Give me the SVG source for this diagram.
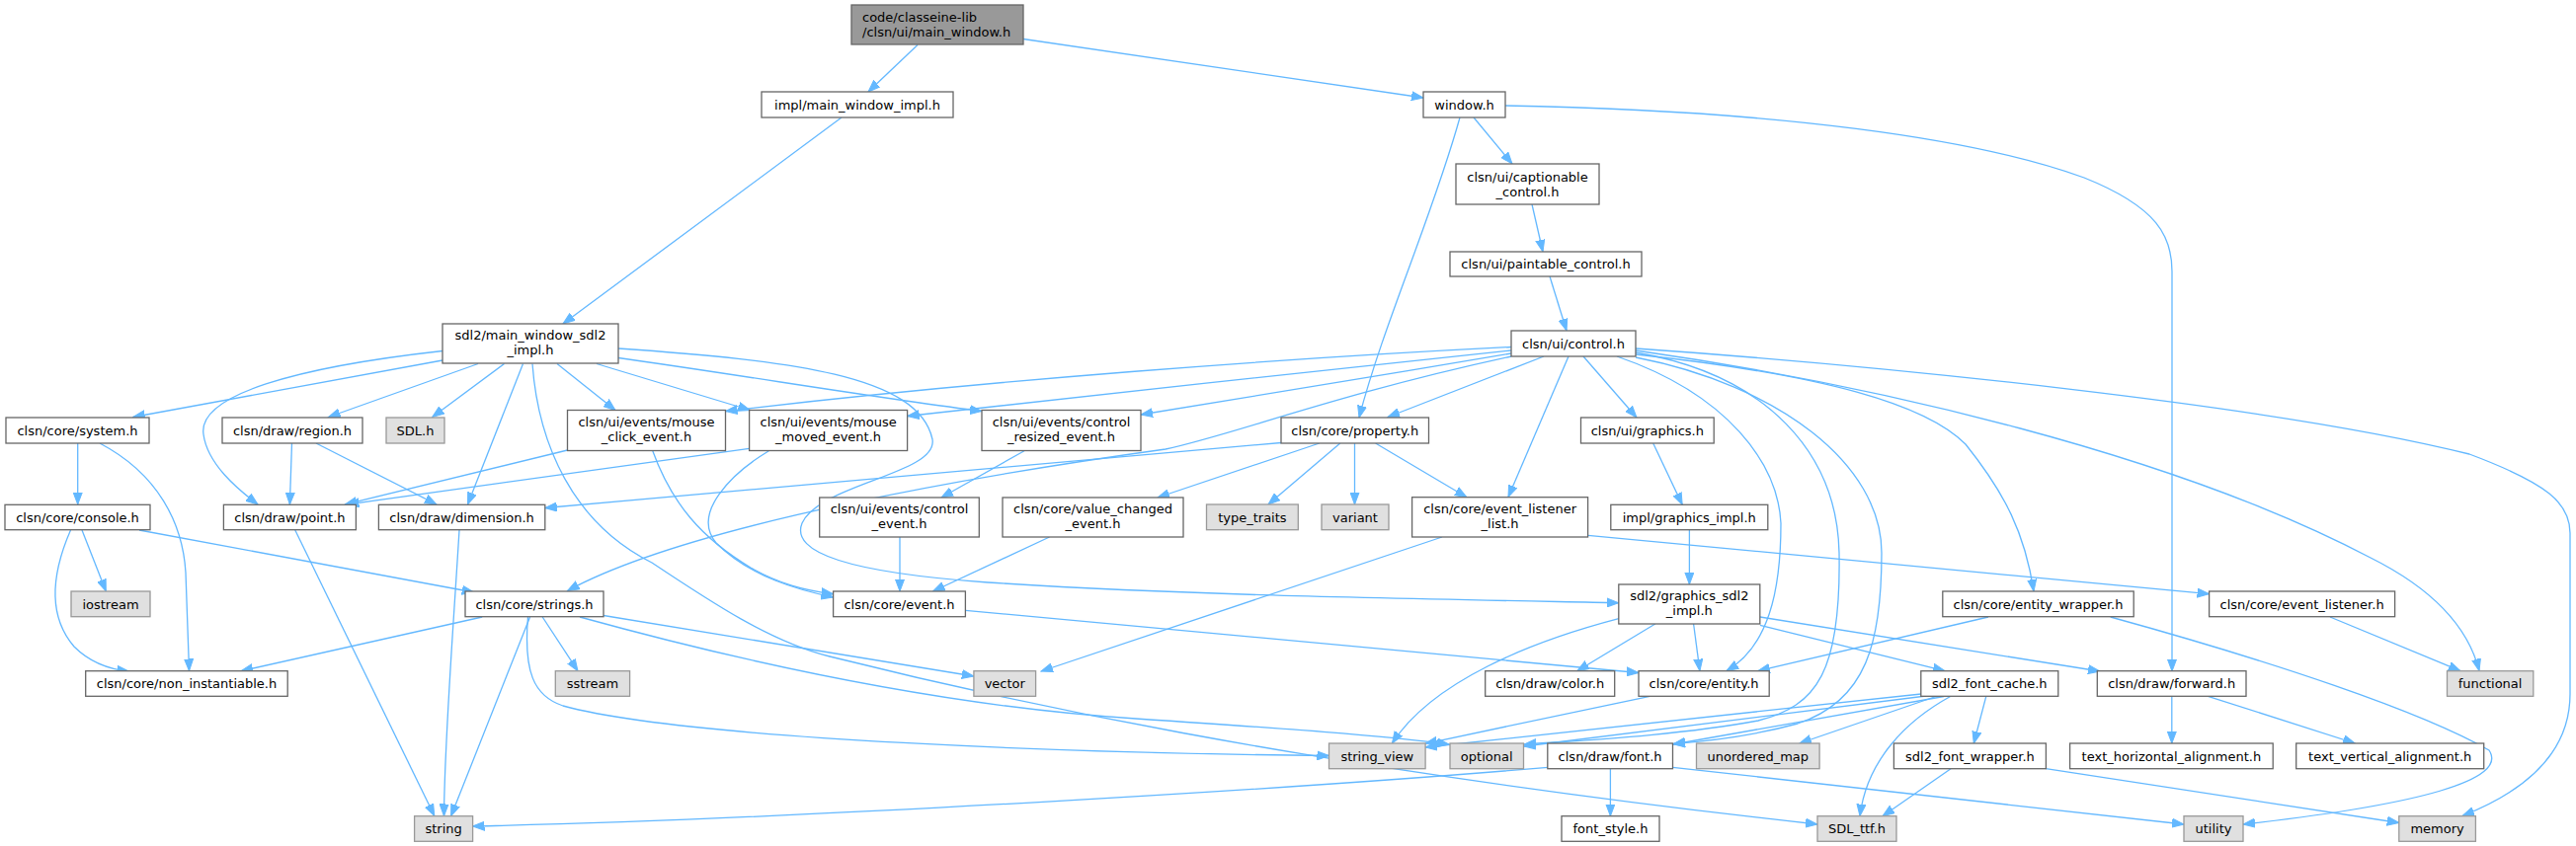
<svg xmlns="http://www.w3.org/2000/svg" width="2608" height="857" viewBox="0 0 2608 857">
<defs>
<marker id="a" markerWidth="13" markerHeight="10" refX="12" refY="5" orient="auto" markerUnits="userSpaceOnUse"><path d="M0,0.5 L12,5 L0,9.5 z" fill="#63b8ff" stroke="#63b8ff" stroke-width="1"/></marker>
<style>
.n rect{fill:#fff;stroke:#666;stroke-width:1.3}
.g rect{fill:#e0e0e0;stroke:#999;stroke-width:1.3}
.m rect{fill:#999;stroke:#666;stroke-width:1.3}
text{font-family:"DejaVu Sans",sans-serif;font-size:13px;fill:#000;text-anchor:middle}
.m text{text-anchor:start}
#edges path{fill:none;stroke:#63b8ff;stroke-width:1.3;marker-end:url(#a)}
</style>
</defs>
<rect width="2608" height="857" fill="#fff"/>
<g id="edges">
<path d="M929,45.5 L879,93"/>
<path d="M1036,39.5 L1441,99"/>
<path d="M852,119 L570,328"/>
<path d="M1492,119 L1531,166"/>
<path d="M1478,119 C1450,220 1400,330 1376,423"/>
<path d="M1524,107 C1800,112 2000,140 2110,180 C2185,210 2199,240 2199,275 L2199,680"/>
<path d="M1551,207 L1562,255"/>
<path d="M1569,280 L1586,335"/>
<path d="M1563,361 L1405,422.5"/>
<path d="M1588,361 L1527,503.5"/>
<path d="M1603,361 L1657,423"/>
<path d="M1637,361 C1750,400 1800,470 1803,530 C1803,600 1790,655 1748,679.5"/>
<path d="M1530,351.5 C1300,363 1000,385 734.6,416.5"/>
<path d="M1530,355 C1350,375 1100,400 918.5,421.5"/>
<path d="M1530,358 C1400,380 1250,405 1155,420"/>
<path d="M1530,361 C1350,400 1250,440 1180,455 C1000,480 700,530 574.5,598.5"/>
<path d="M1656,357 C1790,380 1860,460 1862,560 C1864,680 1840,715 1780,730 C1700,745 1600,750 1543,754"/>
<path d="M1656,362 C1800,390 1905,470 1905,560 C1905,650 1890,710 1820,733 C1780,744 1740,750 1694,753.5"/>
<path d="M1656,359 C1850,380 1950,410 1990,450 C2030,500 2050,540 2059,599"/>
<path d="M1656,355 C1900,390 2200,460 2400,565 C2470,600 2500,640 2510,679.5"/>
<path d="M1656,353 C1900,370 2300,410 2500,460 C2580,490 2602,510 2602,540 L2602,703 C2602,760 2560,800 2493,826.5"/>
<path d="M448,365 L134.7,422.5"/>
<path d="M484,368.5 L332.5,422.5"/>
<path d="M510.5,368.5 L437.7,422.5"/>
<path d="M448,355.5 C300,372 200,400 206,440 C210,470 240,495 261,511"/>
<path d="M529.5,368.5 L473.5,511"/>
<path d="M564,368.5 L623,415.5"/>
<path d="M604,368.5 L759.4,415.5"/>
<path d="M626,362.5 C750,380 900,405 994,416.5"/>
<path d="M626,353 C800,365 930,380 944,445 C950,480 830,490 812,530 C800,560 860,580 1000,590 C1200,603 1400,606 1638.8,610.7"/>
<path d="M539,368.5 C545,450 580,530 660,570 C720,610 780,650 840,665 C1000,705 1300,775 1840,835"/>
<path d="M78.7,449 L78.7,511"/>
<path d="M101,449 C160,480 185,530 188,580 L191.5,679.5"/>
<path d="M83,537 L107.3,599"/>
<path d="M71.5,537 C55,575 45,620 75,655 C90,670 110,678 130.5,680"/>
<path d="M141,537 L479.8,600"/>
<path d="M295.5,449 L293.4,511"/>
<path d="M320,449 L442,511"/>
<path d="M298.8,537 L439.8,826.5"/>
<path d="M465,537 C458,650 450,750 449.5,826.5"/>
<path d="M574.5,456 L349.3,511"/>
<path d="M758.6,454.3 L351.4,511"/>
<path d="M660.5,456 C680,510 710,545 760,575 C790,592 815,598 843.6,601.7"/>
<path d="M778.4,456.7 C740,480 700,520 725,550 C760,585 810,598 843.6,605"/>
<path d="M1037,456.7 L953,504"/>
<path d="M911,544 L911,599"/>
<path d="M1062.5,544 L944.6,599"/>
<path d="M1335.8,449 L1172,504"/>
<path d="M1356.8,449 L1284,511"/>
<path d="M1371.5,449 L1371.5,511"/>
<path d="M1392.6,449 L1485,503.7"/>
<path d="M1297,448.5 L551.8,514.5"/>
<path d="M1673.7,449 L1703.2,511.3"/>
<path d="M1710.4,536.7 L1710.4,592"/>
<path d="M488.2,625 L244.1,679.7"/>
<path d="M536.6,625 L456.6,826.7"/>
<path d="M549.2,625 L585,679.7"/>
<path d="M534.5,625 C530,680 540,705 570,715 C700,750 1100,763 1345.5,765.5"/>
<path d="M611,623.5 L985.9,685"/>
<path d="M587,625 C750,670 950,715 1150,728 C1300,738 1400,745 1467,754"/>
<path d="M1460,544 L1054,680"/>
<path d="M1607.7,542.3 C1800,560 2000,580 2236.6,601.7"/>
<path d="M977.4,618.3 L1659,681.5"/>
<path d="M1638.8,626.7 C1550,650 1450,690 1409.4,753"/>
<path d="M1675.8,632 L1596.7,679.7"/>
<path d="M1714.6,632 L1720.9,679.7"/>
<path d="M1781.9,633.3 L1969,679.7"/>
<path d="M1781.9,625 L2126,680"/>
<path d="M2013,625 L1779.8,679.7"/>
<path d="M2136.7,625 C2300,670 2450,720 2520,760 C2540,790 2450,815 2271,835"/>
<path d="M2359,625 L2491,679.7"/>
<path d="M1670.4,705.3 L1443,753.3"/>
<path d="M2010.8,705.3 L1998.3,753"/>
<path d="M1975,705.3 C1930,730 1890,770 1883,826.7"/>
<path d="M1960,705.5 L1821.9,753"/>
<path d="M1945,703 L1443,757"/>
<path d="M1950,705 L1543,756"/>
<path d="M1968,705.5 L1694,754"/>
<path d="M2198.8,705.3 L2198.8,753"/>
<path d="M2235.4,705.3 L2384.3,753"/>
<path d="M1630.4,778.7 L1630.4,826.7"/>
<path d="M1567.2,777.3 C1300,800 800,830 478.5,837"/>
<path d="M1693.5,777.3 L2211,835"/>
<path d="M2071.3,778.7 L2428.8,833.5"/>
<path d="M1975,778.7 L1906,826.7"/>
</g>
<g id="main" class="m"><rect x="862" y="5" width="174" height="40"/><text x="873" y="21.5">code/classeine-lib</text><text x="873" y="36.5">/clsn/ui/main_window.h</text></g>
<g id="impl_main_window" class="n"><rect x="771" y="93" width="194" height="26"/><text x="868" y="110.5">impl/main_window_impl.h</text></g>
<g id="window" class="n"><rect x="1441" y="93" width="83" height="26"/><text x="1482.5" y="110.5">window.h</text></g>
<g id="captionable" class="n"><rect x="1474" y="166" width="145" height="41"/><text x="1546.5" y="183.5">clsn/ui/captionable</text><text x="1546.5" y="198.5">_control.h</text></g>
<g id="paintable" class="n"><rect x="1468" y="255" width="194" height="25"/><text x="1565" y="272">clsn/ui/paintable_control.h</text></g>
<g id="control" class="n"><rect x="1530" y="335" width="126" height="26"/><text x="1593" y="352.5">clsn/ui/control.h</text></g>
<g id="sdl2main" class="n"><rect x="448" y="328" width="178" height="40"/><text x="537" y="344">sdl2/main_window_sdl2</text><text x="537" y="359">_impl.h</text></g>
<g id="system" class="n"><rect x="6" y="423" width="145" height="26"/><text x="78.5" y="440.5">clsn/core/system.h</text></g>
<g id="region" class="n"><rect x="225" y="423" width="142" height="26"/><text x="296" y="440.5">clsn/draw/region.h</text></g>
<g id="sdl_h" class="g"><rect x="391" y="423" width="59" height="26"/><text x="420.5" y="440.5">SDL.h</text></g>
<g id="mouse_click" class="n"><rect x="574.5" y="415.5" width="160" height="41"/><text x="654.5" y="431.5">clsn/ui/events/mouse</text><text x="654.5" y="446.5">_click_event.h</text></g>
<g id="mouse_moved" class="n"><rect x="758.6" y="415.5" width="160" height="41"/><text x="838.6" y="431.5">clsn/ui/events/mouse</text><text x="838.6" y="446.5">_moved_event.h</text></g>
<g id="control_resized" class="n"><rect x="994" y="415.5" width="161" height="41"/><text x="1074.5" y="431.5">clsn/ui/events/control</text><text x="1074.5" y="446.5">_resized_event.h</text></g>
<g id="property" class="n"><rect x="1297" y="423" width="149.5" height="26"/><text x="1371.7" y="440.5">clsn/core/property.h</text></g>
<g id="graphics" class="n"><rect x="1600.5" y="423" width="134.7" height="26"/><text x="1667.8" y="440.5">clsn/ui/graphics.h</text></g>
<g id="console" class="n"><rect x="5" y="511.3" width="147" height="25.4"/><text x="78.5" y="528.7">clsn/core/console.h</text></g>
<g id="point" class="n"><rect x="226.4" y="511.3" width="134" height="25.4"/><text x="293.4" y="528.7">clsn/draw/point.h</text></g>
<g id="dimension" class="n"><rect x="383.4" y="511.3" width="168.4" height="25.4"/><text x="467.6" y="528.7">clsn/draw/dimension.h</text></g>
<g id="control_event" class="n"><rect x="829.7" y="504" width="161.6" height="40"/><text x="910.5" y="520.3">clsn/ui/events/control</text><text x="910.5" y="535.3">_event.h</text></g>
<g id="value_changed" class="n"><rect x="1015" y="504" width="183" height="40"/><text x="1106.5" y="520.3">clsn/core/value_changed</text><text x="1106.5" y="535.3">_event.h</text></g>
<g id="type_traits" class="g"><rect x="1221.5" y="511" width="92.8" height="25.7"/><text x="1267.9" y="528.5">type_traits</text></g>
<g id="variant" class="g"><rect x="1338" y="511" width="68" height="25.7"/><text x="1372" y="528.5">variant</text></g>
<g id="event_listener_list" class="n"><rect x="1429.6" y="503.7" width="178" height="40.3"/><text x="1518.6" y="520.3">clsn/core/event_listener</text><text x="1518.6" y="535.3">_list.h</text></g>
<g id="graphics_impl" class="n"><rect x="1630.8" y="511.3" width="159" height="25.4"/><text x="1710.3" y="528.7">impl/graphics_impl.h</text></g>
<g id="iostream" class="g"><rect x="72" y="599" width="80" height="25.7"/><text x="112" y="616.5">iostream</text></g>
<g id="strings" class="n"><rect x="471" y="599" width="140" height="25.7"/><text x="541" y="616.5">clsn/core/strings.h</text></g>
<g id="event" class="n"><rect x="843.6" y="599" width="133.8" height="25.7"/><text x="910.5" y="616.5">clsn/core/event.h</text></g>
<g id="graphics_sdl2" class="n"><rect x="1638.8" y="592" width="143" height="40"/><text x="1710.3" y="608.4">sdl2/graphics_sdl2</text><text x="1710.3" y="623.4">_impl.h</text></g>
<g id="entity_wrapper" class="n"><rect x="1966.8" y="599" width="193.4" height="25.7"/><text x="2063.5" y="616.5">clsn/core/entity_wrapper.h</text></g>
<g id="event_listener" class="n"><rect x="2236.6" y="599" width="188" height="25.7"/><text x="2330.6" y="616.5">clsn/core/event_listener.h</text></g>
<g id="non_instantiable" class="n"><rect x="86.7" y="679.7" width="204.5" height="25.6"/><text x="189" y="697.2">clsn/core/non_instantiable.h</text></g>
<g id="sstream" class="g"><rect x="562.3" y="679.7" width="75.3" height="25.6"/><text x="600" y="697.2">sstream</text></g>
<g id="vector" class="g"><rect x="985.9" y="679.7" width="62.7" height="25.6"/><text x="1017.3" y="697.2">vector</text></g>
<g id="color" class="n"><rect x="1503.7" y="679.7" width="131" height="25.6"/><text x="1569.2" y="697.2">clsn/draw/color.h</text></g>
<g id="entity" class="n"><rect x="1659" y="679.7" width="132.2" height="25.6"/><text x="1725.1" y="697.2">clsn/core/entity.h</text></g>
<g id="font_cache" class="n"><rect x="1944.8" y="679.7" width="139" height="25.6"/><text x="2014.3" y="697.2">sdl2_font_cache.h</text></g>
<g id="forward" class="n"><rect x="2123.3" y="679.7" width="150.7" height="25.6"/><text x="2198.7" y="697.2">clsn/draw/forward.h</text></g>
<g id="functional" class="g"><rect x="2477.5" y="679.7" width="87.3" height="25.6"/><text x="2521.1" y="697.2">functional</text></g>
<g id="string_view" class="g"><rect x="1345.5" y="753" width="97.6" height="25.7"/><text x="1394.3" y="770.5">string_view</text></g>
<g id="optional" class="g"><rect x="1468" y="753" width="74.5" height="25.7"/><text x="1505.2" y="770.5">optional</text></g>
<g id="font" class="n"><rect x="1566.8" y="753" width="126.7" height="25.7"/><text x="1630.1" y="770.5">clsn/draw/font.h</text></g>
<g id="unordered_map" class="g"><rect x="1717.5" y="753" width="124.6" height="25.7"/><text x="1779.8" y="770.5">unordered_map</text></g>
<g id="font_wrapper" class="n"><rect x="1917.4" y="753" width="154" height="25.7"/><text x="1994.4" y="770.5">sdl2_font_wrapper.h</text></g>
<g id="text_h" class="n"><rect x="2095.6" y="753" width="205.6" height="25.7"/><text x="2198.4" y="770.5">text_horizontal_alignment.h</text></g>
<g id="text_v" class="n"><rect x="2324.7" y="753" width="190" height="25.7"/><text x="2419.7" y="770.5">text_vertical_alignment.h</text></g>
<g id="string" class="g"><rect x="419.6" y="826.7" width="59" height="25.6"/><text x="449.1" y="844.2">string</text></g>
<g id="font_style" class="n"><rect x="1581" y="826.7" width="99" height="25.6"/><text x="1630.5" y="844.2">font_style.h</text></g>
<g id="sdl_ttf" class="g"><rect x="1840" y="826.7" width="80" height="25.6"/><text x="1880" y="844.2">SDL_ttf.h</text></g>
<g id="utility" class="g"><rect x="2211" y="826.7" width="60" height="25.6"/><text x="2241" y="844.2">utility</text></g>
<g id="memory" class="g"><rect x="2428.8" y="826.7" width="77.6" height="25.6"/><text x="2467.6" y="844.2">memory</text></g>
</svg>
